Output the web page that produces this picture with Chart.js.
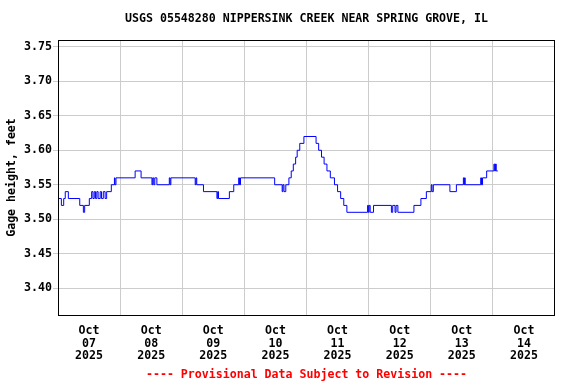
<!DOCTYPE html>
<html>
<head>
<meta charset="utf-8">
<script src="https://cdn.jsdelivr.net/npm/chart.js@4"></script>
<style>
  html, body { margin: 0; padding: 0; background: #fff; }
  #wrap { width: 576px; height: 384px; }
</style>
</head>
<body>
<div id="wrap"><canvas id="c" width="576" height="384"></canvas></div>
<script>
// hours since Oct 07 00:00, gage height (ft) from that hour on
const hours = [0, 1.3, 2.2, 2.8, 4.0, 8.4, 9.8, 10.3, 12.1, 13.0, 13.5, 14.0, 14.5, 15.0, 15.5, 16.3, 16.8, 17.5, 18.2, 18.8,
  20.6, 21.8, 22.0, 22.4, 29.8, 32.1, 36.3, 36.6, 37.0, 37.4, 38.2, 43.0, 43.3, 43.6,
  53.0, 53.3, 53.6, 56.2, 61.4, 61.7, 62.0, 66.2, 67.9, 69.8, 70.1, 70.5, 83.7, 86.6, 86.9, 87.3, 88.0,
  89.2, 90.1, 90.9, 91.8, 92.4, 93.4, 95.0, 99.7, 100.7, 101.8, 102.8, 103.9, 105.2, 106.8, 108.0, 109.2, 110.4, 111.6,
  119.6, 119.9, 120.2, 120.6, 121.9, 128.8, 129.3, 130.2, 130.6, 131.3, 137.5, 140.2, 142.3, 144.2, 144.5, 145.0,
  151.4, 153.9, 156.6, 156.9, 157.1, 157.3, 163.3, 163.6, 164.0, 165.6, 168.4, 168.7, 169.0, 169.3, 169.9];
const gage = [3.53, 3.52, 3.53, 3.54, 3.53, 3.52, 3.51, 3.52, 3.53, 3.54, 3.53, 3.54, 3.53, 3.54, 3.53, 3.54, 3.53, 3.54, 3.53, 3.54,
  3.55, 3.56, 3.55, 3.56, 3.57, 3.56, 3.55, 3.56, 3.55, 3.56, 3.55, 3.56, 3.55, 3.56,
  3.55, 3.56, 3.55, 3.54, 3.53, 3.54, 3.53, 3.54, 3.55, 3.56, 3.55, 3.56, 3.55, 3.54, 3.55, 3.54, 3.55,
  3.56, 3.57, 3.58, 3.59, 3.60, 3.61, 3.62, 3.61, 3.60, 3.59, 3.58, 3.57, 3.56, 3.55, 3.54, 3.53, 3.52, 3.51,
  3.52, 3.51, 3.52, 3.51, 3.52, 3.51, 3.52, 3.51, 3.52, 3.51, 3.52, 3.53, 3.54, 3.55, 3.54, 3.55,
  3.54, 3.55, 3.56, 3.55, 3.56, 3.55, 3.56, 3.55, 3.56, 3.57, 3.58, 3.57, 3.58, 3.57, 3.57];

const dayLabels = ['07', '08', '09', '10', '11', '12', '13', '14'];
const monthLabel = 'Oct';
const yearLabel = '2025';
const yTicks = [3.40, 3.45, 3.50, 3.55, 3.60, 3.65, 3.70, 3.75];

const titleText = 'USGS 05548280 NIPPERSINK CREEK NEAR SPRING GROVE, IL';
const footerText = '---- Provisional Data Subject to Revision ----';
const FONT = '"DejaVu Sans Mono", monospace';
const FSIZE = 11.6;

const points = hours.map((h, i) => ({ x: h, y: gage[i] }));

const frame = {
  id: 'frame',
  afterDraw(chart) {
    const ctx = chart.ctx, a = chart.chartArea;
    ctx.save();
    ctx.strokeStyle = '#000';
    ctx.lineWidth = 1;
    ctx.strokeRect(Math.round(a.left) + 0.5, Math.round(a.top) + 0.5,
      Math.round(a.right - a.left) - 1, Math.round(a.bottom - a.top));
    const cx = (a.left + a.right) / 2;
    ctx.textAlign = 'center';
    ctx.textBaseline = 'middle';
    ctx.font = 'bold ' + FSIZE + 'px ' + FONT;
    ctx.fillStyle = '#000';
    ctx.fillText(titleText, cx, 19);
    ctx.fillStyle = '#ff0000';
    ctx.fillText(footerText, cx, 375);
    ctx.restore();
  }
};

new Chart(document.getElementById('c'), {
  type: 'line',
  data: {
    datasets: [{
      data: points,
      borderColor: '#0000ff',
      borderWidth: 1,
      pointRadius: 0,
      stepped: true,
      fill: false
    }]
  },
  options: {
    responsive: false,
    animation: false,
    layout: { padding: { left: 0, right: 21, top: 40, bottom: 0 } },
    plugins: { legend: { display: false }, tooltip: { enabled: false }, title: { display: false } },
    scales: {
      x: {
        type: 'linear',
        min: 0,
        max: 192,
        afterBuildTicks(s) {
          s.ticks = [];
          for (let h = 0; h <= 192; h += 12) s.ticks.push({ value: h });
        },
        afterFit(s) { s.height = 69; },
        grid: {
          drawTicks: false,
          color: c => (c.tick && c.tick.value % 24 === 0 && c.tick.value > 0 && c.tick.value < 192) ? '#cccccc' : 'rgba(0,0,0,0)',
          lineWidth: 1
        },
        border: { display: false },
        ticks: {
          autoSkip: false,
          maxRotation: 0,
          padding: 9,
          color: '#000',
          font: { family: FONT, size: FSIZE, weight: 'bold', lineHeight: 1.12 },
          callback: v => {
            if (v % 24 !== 12) return '';
            const d = Math.floor(v / 24);
            return [monthLabel, dayLabels[d], yearLabel];
          }
        }
      },
      y: {
        min: 3.361,
        max: 3.760,
        afterBuildTicks(s) { s.ticks = yTicks.map(v => ({ value: v })); },
        afterFit(s) { s.width = 58; },
        grid: { color: '#cccccc', lineWidth: 1, tickLength: 5, tickColor: '#cccccc' },
        border: { display: false },
        ticks: {
          padding: 1,
          color: '#000',
          font: { family: FONT, size: FSIZE, weight: 'bold' },
          callback: v => Number(v).toFixed(2)
        },
        title: {
          display: true,
          text: 'Gage height, feet',
          color: '#000',
          padding: { top: 5, bottom: 0 },
          font: { family: FONT, size: FSIZE, weight: 'bold' }
        }
      }
    }
  },
  plugins: [frame]
});
</script>
</body>
</html>
